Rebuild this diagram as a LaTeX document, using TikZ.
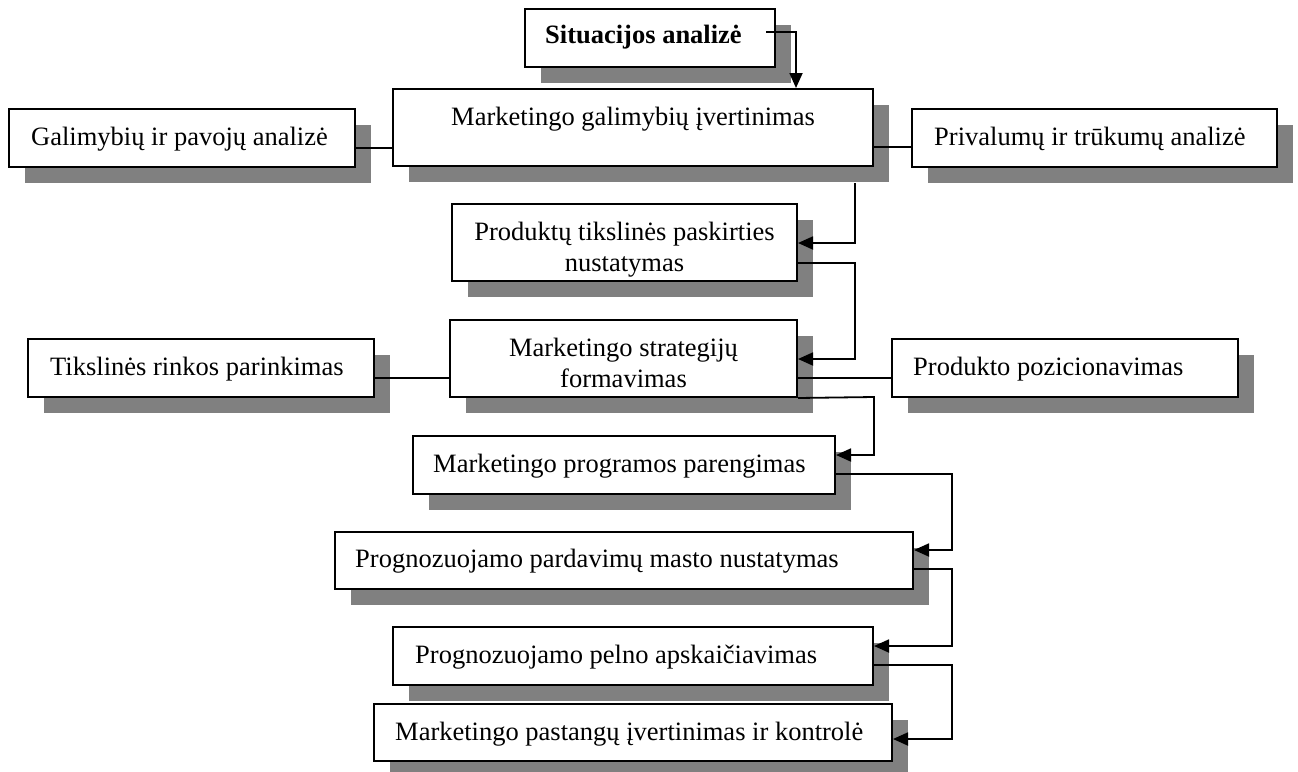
\documentclass[tikz,border=0pt]{standalone}
\usepackage{fontspec}
\setmainfont{Liberation Serif}
\usetikzlibrary{arrows.meta,shadows}
\definecolor{shadowgray}{HTML}{808080}
\begin{document}
\begin{tikzpicture}[x=1pt,y=-1pt,
  box/.style={draw=black, line width=2pt, fill=white, inner sep=0pt,
    drop shadow={shadow xshift=16pt, shadow yshift=-16pt, fill=shadowgray, opacity=1}},
  lbl/.style={font=\fontsize{26.5}{31}\selectfont, inner sep=0pt},
  link/.style={draw=black, line width=1.8pt},
  arr/.style={link, -{Triangle[length=15pt,width=13pt]}}]
\fill[white] (0,0) rectangle (1298,771);
\useasboundingbox (0,0) rectangle (1298,771);

% boxes
\node[box, minimum width=250pt, minimum height=58pt] (sit) at (650,38) {};
\node[box, minimum width=480pt, minimum height=77pt] (mge) at (633,127.5) {};
\node[box, minimum width=346pt, minimum height=58pt] (gpa) at (182,138) {};
\node[box, minimum width=365pt, minimum height=58pt] (ptr) at (1094.5,138) {};
\node[box, minimum width=345pt, minimum height=77pt] (ptp) at (624.5,242.5) {};
\node[box, minimum width=346pt, minimum height=58pt] (trp) at (201,368) {};
\node[box, minimum width=347pt, minimum height=77pt] (mst) at (623.5,358.5) {};
\node[box, minimum width=346pt, minimum height=58pt] (ppo) at (1065,368) {};
\node[box, minimum width=422pt, minimum height=58pt] (mpp) at (624,465) {};
\node[box, minimum width=578pt, minimum height=57pt] (ppm) at (624,560.5) {};
\node[box, minimum width=480pt, minimum height=58pt] (ppa) at (633,656) {};
\node[box, minimum width=518pt, minimum height=57pt] (mpk) at (633,732.5) {};

% texts (two-line labels are anchored at the baseline of their last line)
\node[lbl, anchor=base west] (sit-t) at (545,43) {\bfseries Situacijos analizė};
\node[lbl, anchor=base] (mge-t) at (633,125) {Marketingo galimybių įvertinimas};
\node[lbl, anchor=base west] (gpa-t) at (31,145) {Galimybių ir pavojų analizė};
\node[lbl, anchor=base west] (ptr-t) at (934,145) {Privalumų ir trūkumų analizė};
\node[lbl, anchor=base, align=center] (ptp-t) at (624.5,271) {Produktų tikslinės paskirties\\nustatymas};
\node[lbl, anchor=base west] (trp-t) at (50,375) {Tikslinės rinkos parinkimas};
\node[lbl, anchor=base, align=center] (mst-t) at (623.5,387) {Marketingo strategijų\\formavimas};
\node[lbl, anchor=base west] (ppo-t) at (913,375) {Produkto pozicionavimas};
\node[lbl, anchor=base west] (mpp-t) at (433,472) {Marketingo programos parengimas};
\node[lbl, anchor=base west] (ppm-t) at (355,567) {Prognozuojamo pardavimų masto nustatymas};
\node[lbl, anchor=base west] (ppa-t) at (415,663) {Prognozuojamo pelno apskaičiavimas};
\node[lbl, anchor=base west] (mpk-t) at (395,740) {Marketingo pastangų įvertinimas ir kontrolė};

% connector start points
\coordinate (s0) at (766,32);
\coordinate (m1) at (855,183);

% connectors
\draw[arr] (s0) -- (796,32) -- (796,0 |- mge.north);
\draw[link] (gpa.east |- 0,148) -- (mge.west |- 0,148);
\draw[link] (mge.east |- 0,147) -- (ptr.west |- 0,147);
\draw[arr] (m1) |- (ptp.east |- 0,243);
\draw[arr] (ptp.east |- 0,263) -- (855,263) |- (mst.east |- 0,359);
\draw[link] (trp.east |- 0,378) -- (mst.west |- 0,378);
\draw[link] (mst.east |- 0,378) -- (ppo.west |- 0,378);
\draw[arr] (mst.south east) -- (874,397) |- (mpp.east |- 0,455);
\draw[arr] (mpp.east |- 0,474) -- (952,474) |- (ppm.east |- 0,550);
\draw[arr] (ppm.east |- 0,569) -- (952,569) |- (ppa.east |- 0,646);
\draw[arr] (ppa.east |- 0,665) -- (952,665) |- (mpk.east |- 0,739);
\end{tikzpicture}
\end{document}
